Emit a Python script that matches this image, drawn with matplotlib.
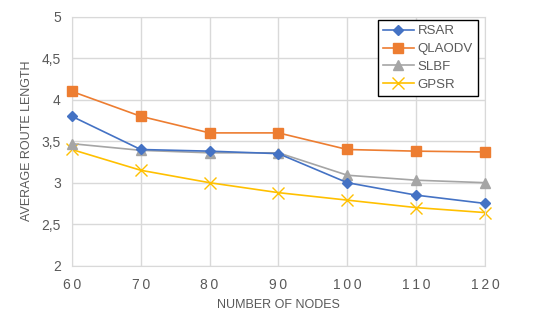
import matplotlib.pyplot as plt

nodes = [60, 70, 80, 90, 100, 110, 120]
rsar = [3.80, 3.40, 3.38, 3.35, 3.00, 2.85, 2.75]
qlaodv = [4.10, 3.80, 3.60, 3.60, 3.40, 3.38, 3.37]
slbf = [3.47, 3.39, 3.36, 3.36, 3.09, 3.03, 3.00]
gpsr = [3.40, 3.15, 3.00, 2.88, 2.79, 2.70, 2.64]
y_ticks = [2, 2.5, 3, 3.5, 4, 4.5, 5]
y_tick_labels = ['2', '2,5', '3', '3,5', '4', '4,5', '5']

plt.rcParams['font.family'] = ['Liberation Sans', 'DejaVu Sans']

fig = plt.figure(figsize=(5.36, 3.34), dpi=100)
ax = fig.add_axes([0.134, 0.2045, 0.771, 0.7455])

ax.plot(nodes, rsar, color='#4472C4', marker='D', markersize=5, linewidth=1.2, label='RSAR', clip_on=False, zorder=5)
ax.plot(nodes, qlaodv, color='#ED7D31', marker='s', markersize=7, linewidth=1.2, label='QLAODV', clip_on=False, zorder=4)
ax.plot(nodes, slbf, color='#A5A5A5', marker='^', markersize=7, linewidth=1.2, label='SLBF', clip_on=False, zorder=3)
ax.plot(nodes, gpsr, color='#FFC000', marker='x', markersize=8, markeredgewidth=1.0, linewidth=1.2, label='GPSR', clip_on=False, zorder=2)

ax.set_xlim(60, 120)
ax.set_ylim(2, 5)
ax.set_xticks(nodes)
ax.set_xticklabels(['\u2009'.join(str(n)) for n in nodes])
ax.set_yticks(y_ticks)
ax.set_yticklabels(y_tick_labels)
ax.tick_params(length=0, labelsize=10, colors='#595959', pad=8)
ax.tick_params(axis='x', pad=9)
ax.grid(True, color='#D9D9D9', linewidth=1)
ax.set_axisbelow(True)
for s in ax.spines.values():
    s.set_color('#D9D9D9')

ax.set_xlabel('NUMBER OF NODES', fontsize=9, color='#595959', labelpad=5)
ax.set_ylabel('AVERAGE ROUTE LENGTH', fontsize=9, color='#595959', labelpad=6)

leg = ax.legend(loc='upper right', bbox_to_anchor=(0.983, 0.987), frameon=True, fancybox=False,
                edgecolor='black', fontsize=9.5, handlelength=2.3, handletextpad=0.3,
                labelspacing=0.42, borderpad=0.4, borderaxespad=0, framealpha=1)
leg.get_frame().set_linewidth(1.0)
for t in leg.get_texts():
    t.set_color('#595959')

fig.savefig('out.png', dpi=100)
